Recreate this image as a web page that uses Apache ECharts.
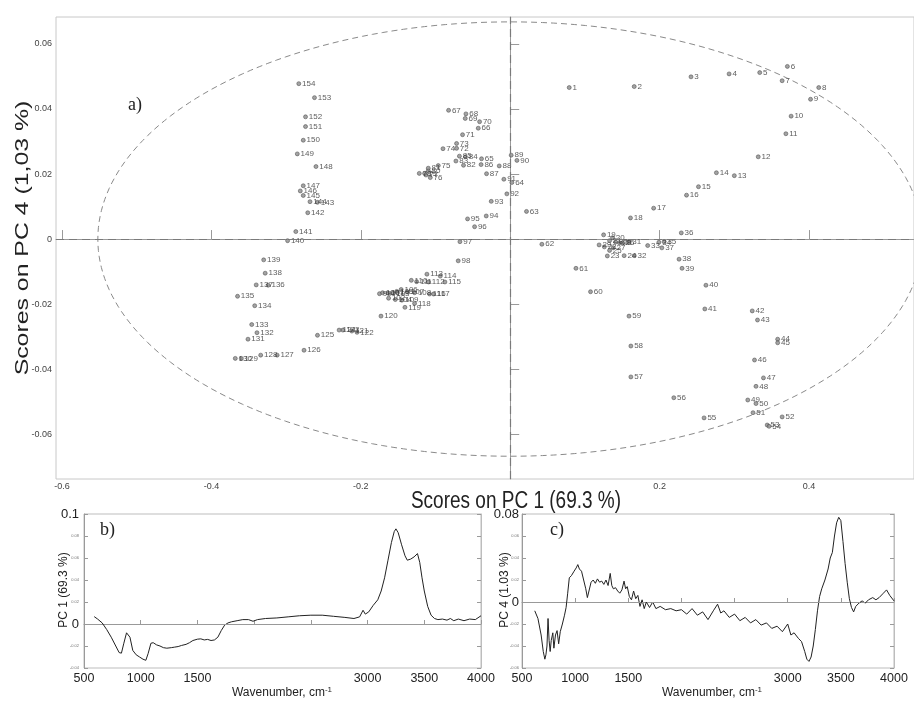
<!DOCTYPE html>
<html>
<head>
<meta charset="utf-8">
<script src="https://cdn.jsdelivr.net/npm/echarts@6/dist/echarts.min.js"></script>
<style>
html,body{margin:0;padding:0;background:#fff;}
#chart{width:914px;height:701px;}
</style>
</head>
<body>
<div id="chart"></div>
<script>
// ---- Scores (panel a): sample i+1 has PC1 = pc1Scores[i], PC4 = pc4Scores[i]
const pc1Scores = [
 0.079,0.166,0.242,0.293,0.334,0.371,0.364,0.413,0.402,0.376,
 0.369,0.332,0.300,0.276,0.252,0.236,0.192,0.161,0.125,0.137,
 0.133,0.126,0.130,0.1525,0.133,0.150,0.138,0.146,0.119,0.141,
 0.159,0.166,0.184,0.199,0.206,0.229,0.203,0.226,0.230,0.262,
 0.2605,0.324,0.331,0.358,0.358,0.327,0.339,0.329,0.318,0.329,
 0.325,0.364,0.344,0.3465,0.2595,0.219,0.1615,0.1615,0.159,0.1075,
 0.088,0.0424,0.0218,0.0022,-0.0384,-0.0428,-0.0825,-0.0593,-0.0602,-0.041,
 -0.0638,-0.0718,-0.0718,-0.090,-0.0963,-0.107,-0.1128,-0.1217,-0.1146,-0.1097,
 -0.1097,-0.0625,-0.0727,-0.060,-0.068,-0.039,-0.0317,-0.0147,0.0013,0.009,
 -0.0085,-0.0045,-0.0254,-0.0321,-0.0571,-0.0477,-0.0673,-0.0696,-0.175,-0.1708,
 -0.164,-0.1628,-0.157,-0.1538,-0.152,-0.146,-0.1374,-0.128,-0.145,-0.1324,
 -0.1253,-0.1093,-0.1115,-0.0936,-0.0874,-0.108,-0.1026,-0.128,-0.1409,-0.173,
 -0.212,-0.205,-0.224,-0.229,-0.258,-0.276,-0.312,-0.334,-0.360,-0.368,
 -0.351,-0.339,-0.346,-0.342,-0.365,-0.324,-0.340,-0.328,-0.330,-0.298,
 -0.287,-0.271,-0.258,-0.268,-0.277,-0.281,-0.277,-0.260,-0.285,-0.277,
 -0.274,-0.274,-0.262,-0.283
];
const pc4Scores = [
 0.0466,0.0469,0.0499,0.0508,0.0512,0.0531,0.0487,0.0466,0.0430,0.0378,
 0.0324,0.0253,0.0195,0.0204,0.0161,0.0135,0.0095,0.0065,0.0013,0.0004,
 -0.0005,-0.0024,-0.0052,-0.0051,-0.0035,-0.0012,-0.0027,-0.0011,-0.0018,-0.0009,
 -0.0009,-0.0051,-0.0020,-0.0010,-0.0008,0.0019,-0.0027,-0.0062,-0.0090,-0.0142,
 -0.0215,-0.0221,-0.0249,-0.0308,-0.0319,-0.0372,-0.0427,-0.0453,-0.0495,-0.0506,
 -0.0534,-0.0547,-0.0572,-0.0576,-0.0550,-0.0488,-0.0424,-0.0329,-0.0237,-0.0162,
 -0.0090,-0.0016,0.0085,0.0174,0.0247,0.0341,0.0396,0.0385,0.0371,0.0361,
 0.0321,0.0279,0.0294,0.0278,0.0226,0.0189,0.0197,0.0202,0.0202,0.0210,
 0.0218,0.0227,0.0240,0.0253,0.0255,0.0229,0.0201,0.0225,0.0258,0.0242,
 0.0184,0.0139,0.0116,0.0071,0.0062,0.0038,-0.0008,-0.0067,-0.0168,-0.0165,
 -0.0166,-0.0182,-0.0167,-0.0186,-0.0161,-0.0155,-0.0163,-0.0165,-0.0188,-0.0127,
 -0.0131,-0.0132,-0.0108,-0.0114,-0.0132,-0.0169,-0.0169,-0.0198,-0.0210,-0.0237,
 -0.0283,-0.0287,-0.0280,-0.0280,-0.0296,-0.0342,-0.0357,-0.0357,-0.0367,-0.0367,
 -0.0308,-0.0288,-0.0263,-0.0205,-0.0176,-0.0142,-0.0141,-0.0105,-0.0064,-0.0005,
 0.0023,0.0081,0.0113,0.0115,0.0134,0.0148,0.0164,0.0223,0.0262,0.0304,
 0.0346,0.0376,0.0435,0.0478
];
// Confidence ellipse semi-axes (PC1, PC4)
const ellipseAxes = [0.552, 0.0668];

// Axis ticks
const pc1Ticks = [-0.6,-0.4,-0.2,0,0.2,0.4];
const pc1TickLabels = [-0.6,-0.4,-0.2,0.2,0.4];
const pc4Ticks = [-0.06,-0.04,-0.02,0,0.02,0.04,0.06];
const wavenumberTickLabels = [500,1000,1500,3000,3500,4000];

// ---- Loadings (panel b): PC1
const wavenumberB = [590,620,660,700,740,780,810,830,850,875,890,905,930,960,990,1020,1045,1065,1090,1110,1140,1170,1200,1230,1270,1300,1330,1360,1400,1430,1460,1500,1530,1560,1590,1620,1650,1680,1710,1740,1770,1800,1850,1900,1950,1990,2030,2100,2200,2300,2400,2500,2600,2700,2800,2880,2930,2960,2980,3010,3050,3090,3120,3150,3180,3210,3235,3250,3270,3300,3330,3350,3380,3410,3440,3460,3480,3500,3530,3560,3590,3620,3660,3700,3730,3760,3800,3850,3900,3950,4000];
const pc1Loadings = [0.0067,0.0045,0.001,-0.005,-0.012,-0.020,-0.026,-0.0265,-0.018,-0.008,-0.007,-0.012,-0.024,-0.028,-0.030,-0.032,-0.033,-0.027,-0.0175,-0.017,-0.019,-0.020,-0.0215,-0.022,-0.0215,-0.021,-0.0205,-0.0195,-0.0185,-0.017,-0.015,-0.0138,-0.0135,-0.0145,-0.014,-0.015,-0.0145,-0.012,-0.006,-0.001,0.001,0.002,0.003,0.004,0.004,0.0025,0.004,0.005,0.0055,0.0065,0.0075,0.008,0.008,0.007,0.006,0.005,0.0065,0.0125,0.009,0.011,0.017,0.022,0.030,0.042,0.058,0.074,0.084,0.0865,0.083,0.072,0.062,0.058,0.059,0.061,0.064,0.056,0.042,0.030,0.016,0.008,0.005,0.004,0.0045,0.0035,0.005,0.003,0.0045,0.003,0.0045,0.004,0.0075];

// ---- Loadings (panel c): PC4
const wavenumberC = [620,650,680,700,715,725,735,745,755,765,775,790,800,815,830,845,860,880,900,915,930,945,965,990,1010,1025,1040,1060,1080,1100,1115,1130,1150,1170,1190,1210,1230,1250,1270,1290,1310,1330,1345,1360,1380,1400,1420,1440,1460,1475,1490,1510,1530,1550,1570,1590,1610,1630,1650,1670,1700,1730,1760,1800,1850,1900,1950,2000,2050,2100,2150,2200,2250,2300,2340,2370,2400,2450,2500,2550,2600,2650,2700,2750,2800,2850,2900,2950,3000,3030,3060,3100,3130,3160,3180,3200,3220,3240,3260,3280,3300,3320,3350,3380,3400,3420,3440,3460,3480,3500,3520,3540,3560,3580,3600,3620,3640,3670,3700,3730,3760,3800,3830,3860,3900,3930,3960,4000];
const pc4Loadings = [-0.008,-0.015,-0.030,-0.045,-0.052,-0.048,-0.040,-0.015,-0.035,-0.045,-0.035,-0.028,-0.042,-0.030,-0.026,-0.038,-0.027,-0.020,-0.012,-0.005,0.008,0.022,0.024,0.028,0.031,0.034,0.030,0.028,0.020,0.012,0.004,0.010,0.018,0.020,0.017,0.021,0.018,0.019,0.016,0.020,0.015,0.026,0.015,0.012,0.013,0.010,0.008,0.011,0.019,0.012,0.014,0.005,0.002,0.010,0.003,0.006,-0.004,0.002,-0.006,0.000,-0.005,0.000,-0.006,-0.004,-0.007,-0.006,-0.008,-0.007,-0.011,-0.006,-0.012,-0.009,-0.016,-0.008,-0.002,-0.010,-0.008,-0.014,-0.011,-0.017,-0.014,-0.019,-0.016,-0.021,-0.019,-0.024,-0.022,-0.027,-0.020,-0.030,-0.028,-0.033,-0.036,-0.045,-0.052,-0.054,-0.050,-0.040,-0.025,-0.008,0.005,0.012,0.020,0.030,0.040,0.045,0.060,0.072,0.077,0.074,0.055,0.035,0.018,0.003,-0.005,-0.009,-0.004,-0.001,0.001,-0.001,0.002,0.004,0.002,0.004,0.008,0.011,0.006,0.001];

const scorePoints = pc1Scores.map((x, i) => ({ name: String(i + 1), value: [x, pc4Scores[i]] }));
const pairs = (xs, ys) => xs.map((x, i) => [x, ys[i]]);

const FONT = 'Liberation Sans, Arial, sans-serif';
const axisGray = '#9a9a9a';

function smallBigLabel(bigVals) {
  return function (v) {
    const r = Math.round(v * 1000) / 1000;
    const isBig = bigVals.some(b => Math.abs(b - r) < 1e-9);
    const txt = r === 0 ? '0' : String(r);
    return isBig ? '{big|' + txt + '}' : '{small|' + r.toFixed(2) + '}';
  };
}
const richLabels = {
  big: { fontSize: 13, color: '#222', fontFamily: FONT },
  small: { fontSize: 4, color: '#777', fontFamily: FONT }
};
const plainNumber = v => String(v);

const chart = echarts.init(document.getElementById('chart'), null, { renderer: 'canvas' });
const option = {
  animation: false,
  backgroundColor: '#fff',
  textStyle: { fontFamily: FONT },
  grid: [
    { left: 56, top: 17, width: 858, height: 462, show: true, borderColor: '#c8c8c8', borderWidth: 1, containLabel: false, outerBoundsMode: 'none' },
    { left: 84, top: 514, width: 397, height: 154, show: true, borderColor: '#bdbdbd', borderWidth: 1, containLabel: false, outerBoundsMode: 'none' },
    { left: 522, top: 514, width: 372, height: 154, show: true, borderColor: '#bdbdbd', borderWidth: 1, containLabel: false, outerBoundsMode: 'none' }
  ],
  xAxis: [
    { gridIndex: 0, type: 'value', min: -0.608, max: 0.5405,
      axisLine: { show: true, lineStyle: { color: axisGray } },
      axisTick: { show: true, inside: true, length: 9, customValues: pc1Ticks, lineStyle: { color: axisGray } },
      axisLabel: { show: true, customValues: pc1TickLabels, fontSize: 9, color: '#444', margin: 3, fontFamily: FONT, formatter: plainNumber },
      splitLine: { show: false } },
    { gridIndex: 1, type: 'value', min: 500, max: 4000, interval: 500,
      axisLine: { show: true, lineStyle: { color: axisGray } },
      axisTick: { show: true, inside: true, length: 4, lineStyle: { color: axisGray } },
      axisLabel: { show: true, customValues: wavenumberTickLabels, fontSize: 12.5, color: '#222', margin: 4, fontFamily: FONT, formatter: plainNumber },
      splitLine: { show: false } },
    { gridIndex: 2, type: 'value', min: 500, max: 4000, interval: 500,
      axisLine: { show: true, lineStyle: { color: axisGray } },
      axisTick: { show: true, inside: true, length: 4, lineStyle: { color: axisGray } },
      axisLabel: { show: true, customValues: wavenumberTickLabels, fontSize: 12.5, color: '#222', margin: 4, fontFamily: FONT, formatter: plainNumber },
      splitLine: { show: false } }
  ],
  yAxis: [
    { gridIndex: 0, type: 'value', min: -0.0738, max: 0.0683,
      axisLine: { show: true, lineStyle: { color: axisGray } },
      axisTick: { show: true, inside: true, length: 9, customValues: pc4Ticks, lineStyle: { color: axisGray } },
      axisLabel: { show: true, customValues: pc4Ticks, fontSize: 9, color: '#444', margin: 4, fontFamily: FONT,
        formatter: v => (Math.abs(v) < 1e-9 ? '0' : v.toFixed(2)) },
      splitLine: { show: false } },
    { gridIndex: 1, type: 'value', min: -0.04, max: 0.1, interval: 0.02,
      axisLine: { show: true, lineStyle: { color: axisGray } },
      axisTick: { show: true, inside: true, length: 4, lineStyle: { color: axisGray } },
      axisLabel: { show: true, margin: 5, formatter: smallBigLabel([0.1, 0]), rich: richLabels },
      splitLine: { show: false } },
    { gridIndex: 2, type: 'value', min: -0.06, max: 0.08, interval: 0.02,
      axisLine: { show: true, lineStyle: { color: axisGray } },
      axisTick: { show: true, inside: true, length: 4, lineStyle: { color: axisGray } },
      axisLabel: { show: true, margin: 3, formatter: smallBigLabel([0.08, 0]), rich: richLabels },
      splitLine: { show: false } },
    { gridIndex: 1, type: 'value', position: 'right', min: -0.04, max: 0.1, interval: 0.02,
      axisLine: { show: true, lineStyle: { color: '#bdbdbd' } },
      axisTick: { show: true, inside: true, length: 4, lineStyle: { color: axisGray } },
      axisLabel: { show: false }, splitLine: { show: false } },
    { gridIndex: 2, type: 'value', position: 'right', min: -0.06, max: 0.08, interval: 0.02,
      axisLine: { show: true, lineStyle: { color: '#bdbdbd' } },
      axisTick: { show: true, inside: true, length: 4, lineStyle: { color: axisGray } },
      axisLabel: { show: false }, splitLine: { show: false } }
  ],
  series: [
    { // confidence ellipse
      type: 'custom', xAxisIndex: 0, yAxisIndex: 0, clip: true, silent: true,
      data: [[0, 0]],
      renderItem: function (params, api) {
        const c = api.coord([api.value(0), api.value(1)]);
        const rx = api.size([ellipseAxes[0], 0])[0];
        const ry = api.size([0, ellipseAxes[1]])[1];
        const pts = [];
        for (let k = 0; k <= 240; k++) {
          const t = (k / 240) * Math.PI * 2;
          pts.push([c[0] + rx * Math.cos(t), c[1] + ry * Math.sin(t)]);
        }
        return { type: 'polyline', shape: { points: pts },
          style: { fill: null, stroke: '#8a8a8a', lineWidth: 1, lineDash: [6, 4] } };
      }
    },
    { type: 'scatter', xAxisIndex: 0, yAxisIndex: 0, data: scorePoints,
      symbol: 'circle', symbolSize: 4,
      itemStyle: { color: '#8c8c8c', borderColor: '#3a3a3a', borderWidth: 0.6 },
      label: { show: true, position: 'right', distance: 1, fontSize: 8, color: '#333', fontFamily: FONT,
        formatter: p => p.name },
      labelLayout: { hideOverlap: false },
      markLine: { silent: true, symbol: 'none', animation: false,
        lineStyle: { color: '#7a7a7a', type: [8, 5], width: 1.2 },
        label: { show: false },
        data: [{ xAxis: 0 }, { yAxis: 0 }] }
    },
    { type: 'line', xAxisIndex: 1, yAxisIndex: 1, data: pairs(wavenumberB, pc1Loadings),
      showSymbol: false, lineStyle: { color: '#222', width: 1 },
      markLine: { silent: true, symbol: 'none', animation: false,
        lineStyle: { color: '#999', type: [3, 2], width: 1 }, label: { show: false }, data: [{ yAxis: 0 }] } },
    { type: 'line', xAxisIndex: 2, yAxisIndex: 2, data: pairs(wavenumberC, pc4Loadings),
      showSymbol: false, lineStyle: { color: '#222', width: 1 },
      markLine: { silent: true, symbol: 'none', animation: false,
        lineStyle: { color: '#999', type: [3, 2], width: 1 }, label: { show: false }, data: [{ yAxis: 0 }] } }
  ],
  graphic: [
    { type: 'text', left: 128, top: 96, style: { text: 'a)', font: '18px "Liberation Serif", serif', fill: '#222' } },
    { type: 'text', left: 100, top: 521, style: { text: 'b)', font: '18px "Liberation Serif", serif', fill: '#222' } },
    { type: 'text', left: 550, top: 521, style: { text: 'c)', font: '18px "Liberation Serif", serif', fill: '#222' } },
    { type: 'text', x: 516, y: 501, scaleY: 1.3, style: { text: 'Scores on PC 1 (69.3 %)', font: '19px "Liberation Sans", Arial', fill: '#222', align: 'center', verticalAlign: 'middle' } },
    { type: 'text', x: 23, y: 238, rotation: Math.PI / 2, scaleX: 1.38, style: { text: 'Scores on PC 4 (1,03 %)', font: '18px "Liberation Sans", Arial', fill: '#222', align: 'center', verticalAlign: 'middle' } },
    { type: 'text', x: 64, y: 590, rotation: Math.PI / 2, style: { text: 'PC 1 (69.3 %)', font: '12px "Liberation Sans", Arial', fill: '#222', align: 'center', verticalAlign: 'middle' } },
    { type: 'text', x: 505, y: 590, rotation: Math.PI / 2, style: { text: 'PC 4 (1.03 %)', font: '12px "Liberation Sans", Arial', fill: '#222', align: 'center', verticalAlign: 'middle' } },
    { type: 'text', x: 282, y: 693, style: { rich: { n: { fontSize: 12, fontFamily: FONT, fill: '#222' }, s: { fontSize: 8, fontFamily: FONT, fill: '#222', verticalAlign: 'top', padding: [0, 0, 6, 0] } }, text: '{n|Wavenumber, cm}{s|-1}', align: 'center', verticalAlign: 'middle' } },
    { type: 'text', x: 712, y: 693, style: { rich: { n: { fontSize: 12, fontFamily: FONT, fill: '#222' }, s: { fontSize: 8, fontFamily: FONT, fill: '#222', verticalAlign: 'top', padding: [0, 0, 6, 0] } }, text: '{n|Wavenumber, cm}{s|-1}', align: 'center', verticalAlign: 'middle' } }
  ]
};
chart.setOption(option);
</script>
</body>
</html>
